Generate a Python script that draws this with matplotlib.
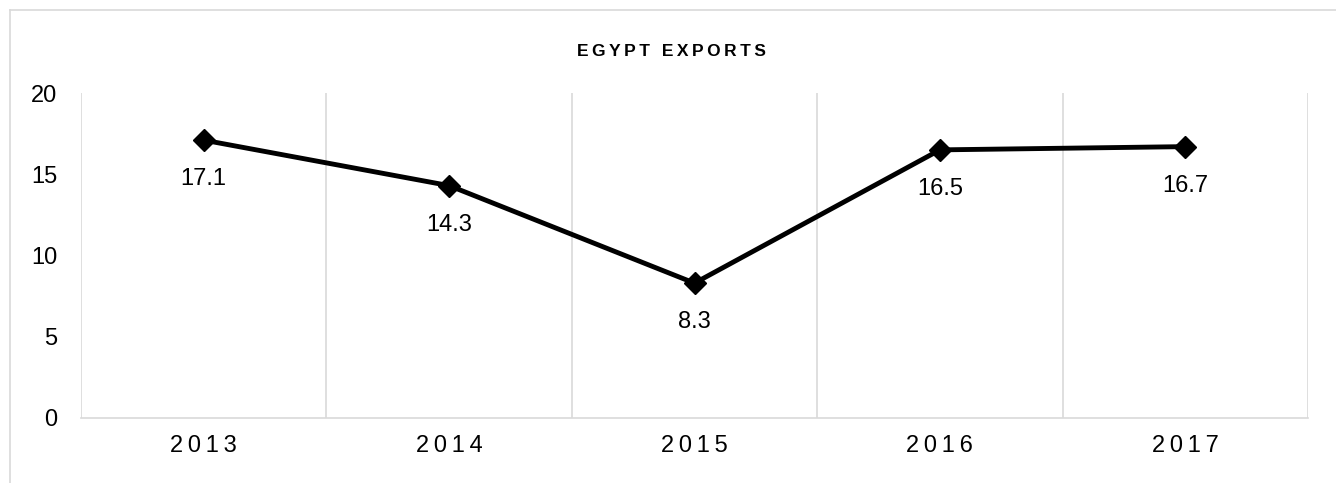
import matplotlib.pyplot as plt
from matplotlib.lines import Line2D
import numpy as np

# data
years = ["2013", "2014", "2015", "2016", "2017"]
exports = [17.1, 14.3, 8.3, 16.5, 16.7]
y_ticks = [0, 5, 10, 15, 20]

plt.rcParams['font.family'] = ['Liberation Sans', 'DejaVu Sans']
grid_col = "#d9d9d9"

fig = plt.figure(figsize=(13.36, 4.83), dpi=100)
W, H = 1336, 483
ax = fig.add_axes([81 / W, 1 - 418 / H, (1308 - 81) / W, (418 - 93) / H])

x = np.arange(len(years))
ax.plot(x, exports, color="black", lw=3.5, marker="D", markersize=11, zorder=3)

for xi, v in zip(x, exports):
    ax.annotate(f"{v}", (xi, v), xytext=(0, -28), textcoords="offset points",
                ha="center", va="center", fontsize=17)

ax.set_xlim(-0.5, len(years) - 0.5)
ax.set_ylim(0, 20)
ax.set_yticks(y_ticks)
ax.set_yticklabels([str(t) for t in y_ticks], fontsize=17)
ax.set_xticks(x)
ax.set_xticklabels(["\u2009".join(y) for y in years], fontsize=17)
ax.set_xticks(np.arange(-0.5, len(years)), minor=True)
ax.grid(True, which="minor", axis="x", color=grid_col, lw=1.2)
ax.tick_params(axis="both", which="both", length=0)
ax.tick_params(axis="y", pad=17)
ax.tick_params(axis="x", pad=12)

for s in ["top", "right", "left"]:
    ax.spines[s].set_visible(False)
ax.spines["bottom"].set_color(grid_col)
ax.spines["bottom"].set_linewidth(1.2)

fig.text(671 / W, 1 - 52 / H, "\u2009".join("EGYPT EXPORTS"),
         ha="center", va="center", fontsize=12.5, fontweight="bold")

# chart border (cropped at right and bottom)
fig.add_artist(Line2D([10 / W, 10 / W], [0, 1 - 10 / H], color=grid_col, lw=1.2))
fig.add_artist(Line2D([10 / W, 1], [1 - 10 / H, 1 - 10 / H], color=grid_col, lw=1.2))

fig.savefig("out.png", dpi=100)
